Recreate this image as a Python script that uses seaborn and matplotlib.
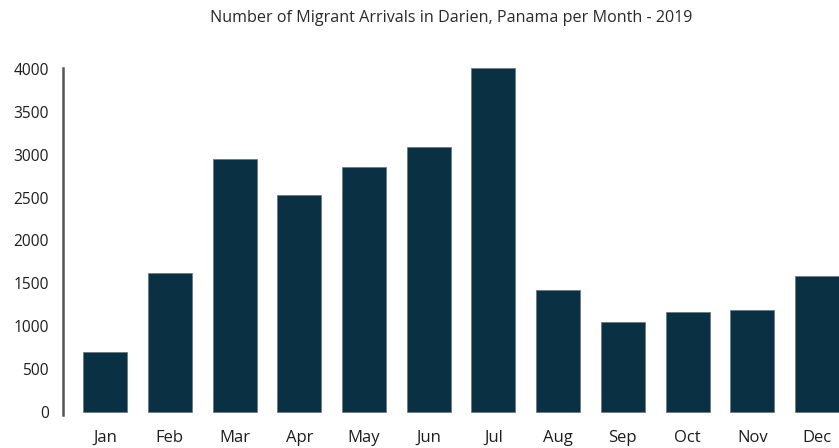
import matplotlib
matplotlib.use("Agg")
import matplotlib.pyplot as plt
import seaborn as sns
import pandas as pd

months = ["Jan", "Feb", "Mar", "Apr", "May", "Jun", "Jul", "Aug", "Sep", "Oct", "Nov", "Dec"]
arrivals = [700, 1620, 2950, 2530, 2860, 3090, 4010, 1420, 1050, 1165, 1195, 1585]
yticks = [0, 500, 1000, 1500, 2000, 2500, 3000, 3500, 4000]
title = "Number of Migrant Arrivals in Darien, Panama per Month - 2019"

df = pd.DataFrame({"month": months, "arrivals": arrivals})

sns.set_theme(style="white")
plt.rcParams["font.family"] = ["Open Sans", "DejaVu Sans"]

fig = plt.figure(figsize=(8.39, 4.48), dpi=100)
left = 63 / 839
ax = fig.add_axes([left, 1 - 415 / 448, 1 - left, (415 - 68) / 448])

sns.barplot(data=df, x="month", y="arrivals", color="#0a3043", saturation=1,
            width=0.68, edgecolor="#6b7b84", linewidth=0.6, ax=ax)

ax.set_xlim(-0.65, 11.34)
ax.set_ylim(-35, 4011)
ax.set_yticks(yticks)
ax.set_yticklabels([str(v) for v in yticks], fontsize=11.2, color="#1e1e1e")
ax.tick_params(axis="y", length=0, pad=10)
ax.tick_params(axis="x", length=0, pad=11, labelsize=12, labelcolor="#1e1e1e")
ax.set_xlabel("")
ax.set_ylabel("")
for s in ["top", "right", "bottom"]:
    ax.spines[s].set_visible(False)
ax.spines["left"].set_color("#555555")
ax.spines["left"].set_linewidth(1.8)

fig.text((left + 1) / 2, 1 - 18 / 448, title, ha="center", va="center",
         fontsize=11.6, color="#2a2a2a")

fig.savefig("out.png", dpi=100)
